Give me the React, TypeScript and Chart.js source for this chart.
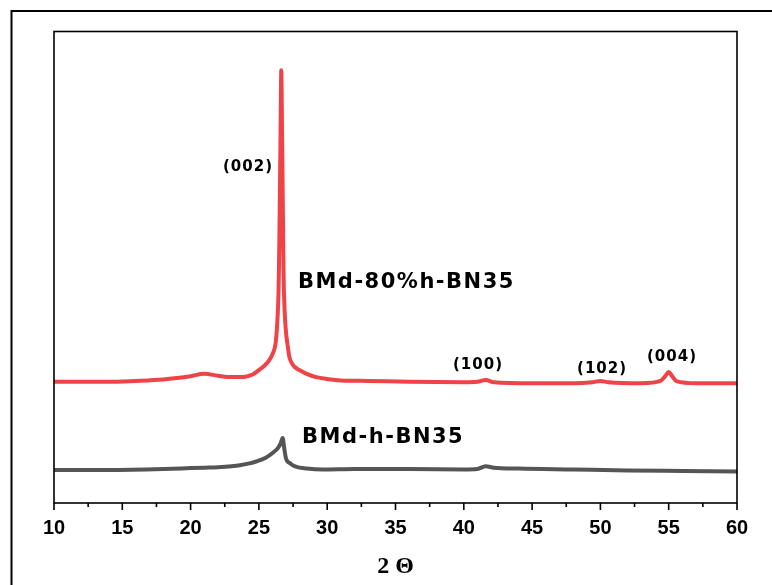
import React, { useEffect, useRef } from "react";
import { Chart, registerables } from "chart.js";

Chart.register(...registerables);

// 2θ positions and intensities (a.u.)
const redX = [10, 12, 14, 16, 18, 19, 20, 21, 22, 23, 24, 24.5, 25.0, 25.4, 25.76, 26.0, 26.15, 26.25, 26.35, 26.44, 26.49, 26.53, 26.58, 26.64, 26.69, 26.74, 26.77, 26.81, 26.88, 26.99, 27.1, 27.23, 27.4, 27.6, 27.96, 28.5, 29.19, 30, 31, 33, 36, 40, 41.0, 41.6, 42.2, 45, 48, 49.4, 50.0, 50.6, 53, 54.4, 54.75, 55.0, 55.25, 55.6, 57, 60];
const redY = [257, 257, 257, 259, 262, 265, 269, 274, 270, 267, 268, 272, 282, 291, 303, 316, 328, 345, 385, 450, 540, 640, 770, 918, 800, 664, 580, 480, 410, 360, 335, 310, 297, 289, 282, 274, 267, 263, 260, 259, 257, 256, 257, 261, 256, 254, 254, 256, 259, 256, 254, 259, 269, 278, 269, 258, 254, 254];

const grayX = [10, 14, 18, 20, 21, 22, 23, 23.6, 24.3, 24.8, 25.5, 26.0, 26.4, 26.6, 26.74, 26.85, 26.98, 27.3, 27.7, 28.5, 29.65, 32, 36, 40, 41.0, 41.6, 42.2, 44, 48, 52, 56, 60];
const grayY = [70, 70, 72, 74, 75, 76, 78, 80, 84, 88, 96, 106, 117, 127, 138, 117, 95, 84, 77, 73, 71, 72, 72, 71, 72, 78, 75, 73, 71, 69, 68, 67];

const xTicks = [10, 15, 20, 25, 30, 35, 40, 45, 50, 55, 60];
const xMinorTicks = [12.5, 17.5, 22.5, 27.5, 32.5, 37.5, 42.5, 47.5, 52.5, 57.5];

const peakLabels = ["(002)", "(100)", "(102)", "(004)"];
const peakLabelX = [24.2, 41.04, 50.12, 55.24];
const peakLabelY = [713, 293, 284, 310];

const seriesNames = ["BMd-80%h-BN35", "BMd-h-BN35"];
const seriesLabelX = [27.86, 28.16];
const seriesLabelY = [467, 138];

const toPts = (xs: number[], ys: number[]) => xs.map((x, i) => ({ x, y: ys[i] }));

const decorPlugin = {
  id: "decor",
  afterDraw(chart: any) {
    const { ctx, chartArea: a, scales } = chart;
    const xs = scales.x;
    const ys = scales.y;
    ctx.save();
    // outer frame
    ctx.strokeStyle = "#000";
    ctx.lineWidth = 2;
    ctx.beginPath();
    ctx.moveTo(11.5, 600);
    ctx.lineTo(11.5, 11);
    ctx.lineTo(800, 11);
    ctx.stroke();
    // plot box
    ctx.lineWidth = 1.6;
    ctx.strokeRect(a.left, a.top, a.right - a.left, a.bottom - a.top);
    // ticks
    ctx.beginPath();
    xTicks.forEach((v) => {
      const p = xs.getPixelForValue(v);
      ctx.moveTo(p, a.bottom);
      ctx.lineTo(p, a.bottom + 7);
    });
    xMinorTicks.forEach((v) => {
      const p = xs.getPixelForValue(v);
      ctx.moveTo(p, a.bottom);
      ctx.lineTo(p, a.bottom + 4);
    });
    ctx.stroke();
    // peak labels
    ctx.fillStyle = "#000";
    ctx.textBaseline = "middle";
    ctx.textAlign = "center";
    ctx.font = "bold 15px 'DejaVu Sans'";
    (ctx as any).letterSpacing = "1px";
    peakLabels.forEach((t, i) => {
      ctx.fillText(t, xs.getPixelForValue(peakLabelX[i]), ys.getPixelForValue(peakLabelY[i]));
    });
    // series labels
    ctx.textAlign = "left";
    ctx.font = "bold 21px 'DejaVu Sans'";
    (ctx as any).letterSpacing = "1.5px";
    seriesNames.forEach((t, i) => {
      ctx.fillText(t, xs.getPixelForValue(seriesLabelX[i]), ys.getPixelForValue(seriesLabelY[i]));
    });
    ctx.restore();
  },
};

export default function App() {
  const ref = useRef<HTMLCanvasElement>(null);
  useEffect(() => {
    if (!ref.current) return;
    const chart = new Chart(ref.current, {
      type: "line",
      data: {
        datasets: [
          {
            label: seriesNames[0],
            data: toPts(redX, redY),
            borderColor: "#ef4347",
            borderWidth: 4,
            pointRadius: 0,
            cubicInterpolationMode: "monotone",
            fill: false,
          },
          {
            label: seriesNames[1],
            data: toPts(grayX, grayY),
            borderColor: "#555555",
            borderWidth: 4,
            pointRadius: 0,
            cubicInterpolationMode: "monotone",
            fill: false,
          },
        ],
      },
      options: {
        animation: false,
        responsive: true,
        maintainAspectRatio: false,
        layout: { padding: { left: 54, right: 35, top: 31.5, bottom: 0 } },
        plugins: { legend: { display: false }, tooltip: { enabled: false } },
        scales: {
          x: {
            type: "linear",
            min: 10,
            max: 60,
            afterFit: (s: any) => {
              s.height = 82;
            },
            grid: { display: false, tickLength: 8 },
            border: { display: false },
            ticks: {
              stepSize: 5,
              padding: 5,
              color: "#000",
              maxRotation: 0,
              font: { family: "'Liberation Sans', Arial", size: 20, weight: "bold" },
            },
            title: {
              display: true,
              text: "2 Θ",
              color: "#000",
              padding: { top: 0, bottom: 4 },
              font: { family: "'Liberation Serif', serif", size: 24, weight: "bold" },
            },
          },
          y: { display: false, min: 0, max: 1000 },
        },
      },
      plugins: [decorPlugin],
    });
    return () => chart.destroy();
  }, []);
  return (
    <div style={{ position: "fixed", left: 0, top: 0, width: 772, height: 585, background: "#fff" }}>
      <canvas ref={ref} />
    </div>
  );
}
